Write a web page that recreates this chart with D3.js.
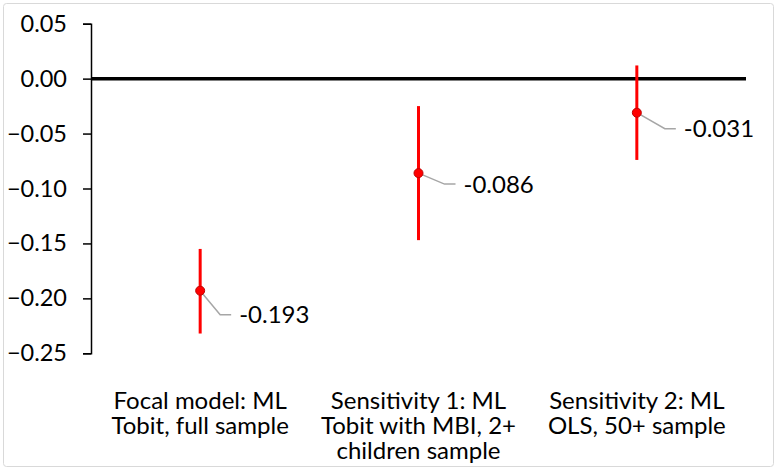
<!DOCTYPE html>
<html>
<head>
<meta charset="utf-8">
<script src="https://cdn.jsdelivr.net/npm/d3@7/dist/d3.min.js"></script>
<style>
  html, body { margin: 0; padding: 0; background: #fff; }
  svg { display: block; }
  text { font-family: Lato, "Open Sans", sans-serif; fill: #000; }
</style>
</head>
<body>
<svg id="chart" width="777" height="471"></svg>
<script>
// Data
const categories = [
  ["Focal model: ML", "Tobit, full sample"],
  ["Sensitivity 1: ML", "Tobit with MBI, 2+", "children sample"],
  ["Sensitivity 2: ML", "OLS, 50+ sample"]
];
const estimates = [-0.193, -0.086, -0.031];
const ciLow = [-0.232, -0.147, -0.074];
const ciHigh = [-0.155, -0.025, 0.012];
const yTicks = [0.05, 0.00, -0.05, -0.10, -0.15, -0.20, -0.25];
const estimateLabels = ["-0.193", "-0.086", "-0.031"];

// Layout (label leader offsets relative to point)
const labelOffsets = [[20, 24], [26, 11], [28, 16]];

const svg = d3.select("#chart");
const W = 777, H = 471;
const plot = { left: 91, right: 746, top: 23.7, bottom: 353.3 };

// border
svg.append("rect")
  .attr("x", 3.5).attr("y", 3.5)
  .attr("width", W - 7).attr("height", H - 8)
  .attr("rx", 3).attr("ry", 3)
  .attr("fill", "#fff").attr("stroke", "#d9d9d9").attr("stroke-width", 1);

const x = d3.scaleBand()
  .domain(d3.range(categories.length))
  .range([plot.left, plot.right])
  .padding(0);

const y = d3.scaleLinear()
  .domain([-0.25, 0.05])
  .range([plot.bottom, plot.top]);

// Y axis
const yAxis = d3.axisLeft(y)
  .tickValues(yTicks)
  .tickSize(8)
  .tickPadding(16)
  .tickFormat(d3.format(".2f"));

const gy = svg.append("g")
  .attr("transform", `translate(${plot.left},0)`)
  .call(yAxis);
gy.select(".domain").attr("stroke", "#000").attr("stroke-width", 1.5);
gy.selectAll(".tick line").attr("stroke", "#000").attr("stroke-width", 1.5);
gy.selectAll(".tick text")
  .style("font-family", "Lato, 'Open Sans', sans-serif")
  .style("font-size", "23.5px")
  .attr("fill", "#000");

// Zero line
svg.append("line")
  .attr("x1", plot.left).attr("x2", plot.right)
  .attr("y1", y(0)).attr("y2", y(0))
  .attr("stroke", "#000").attr("stroke-width", 3.5);

const cx = i => x(i) + x.bandwidth() / 2;

// Error bars
svg.selectAll(".err")
  .data(estimates)
  .join("line")
  .attr("class", "err")
  .attr("x1", (d, i) => cx(i)).attr("x2", (d, i) => cx(i))
  .attr("y1", (d, i) => y(ciHigh[i])).attr("y2", (d, i) => y(ciLow[i]))
  .attr("stroke", "#ff0000").attr("stroke-width", 3);

// Leader lines
estimates.forEach((d, i) => {
  const px = cx(i), py = y(d);
  const [dx, dy] = labelOffsets[i];
  svg.append("polyline")
    .attr("points", `${px},${py} ${px + dx},${py + dy} ${px + dx + 11},${py + dy}`)
    .attr("fill", "none").attr("stroke", "#a6a6a6").attr("stroke-width", 1.5);
  svg.append("text")
    .attr("x", px + dx + 19)
    .attr("y", py + dy)
    .attr("dy", "0.35em")
    .style("font-size", "24px")
    .text(estimateLabels[i]);
});

// Points
svg.selectAll(".pt")
  .data(estimates)
  .join("circle")
  .attr("class", "pt")
  .attr("cx", (d, i) => cx(i))
  .attr("cy", d => y(d))
  .attr("r", 4.5)
  .attr("fill", "#ff0000").attr("stroke", "#c00000").attr("stroke-width", 1);

// Category labels
const catG = svg.selectAll(".cat")
  .data(categories)
  .join("text")
  .attr("class", "cat")
  .attr("text-anchor", "middle")
  .style("font-size", "24px");
catG.each(function(lines, i) {
  d3.select(this).selectAll("tspan")
    .data(lines)
    .join("tspan")
    .attr("x", cx(i))
    .attr("y", (l, j) => 409 + j * 25)
    .text(l => l);
});
</script>
</body>
</html>
